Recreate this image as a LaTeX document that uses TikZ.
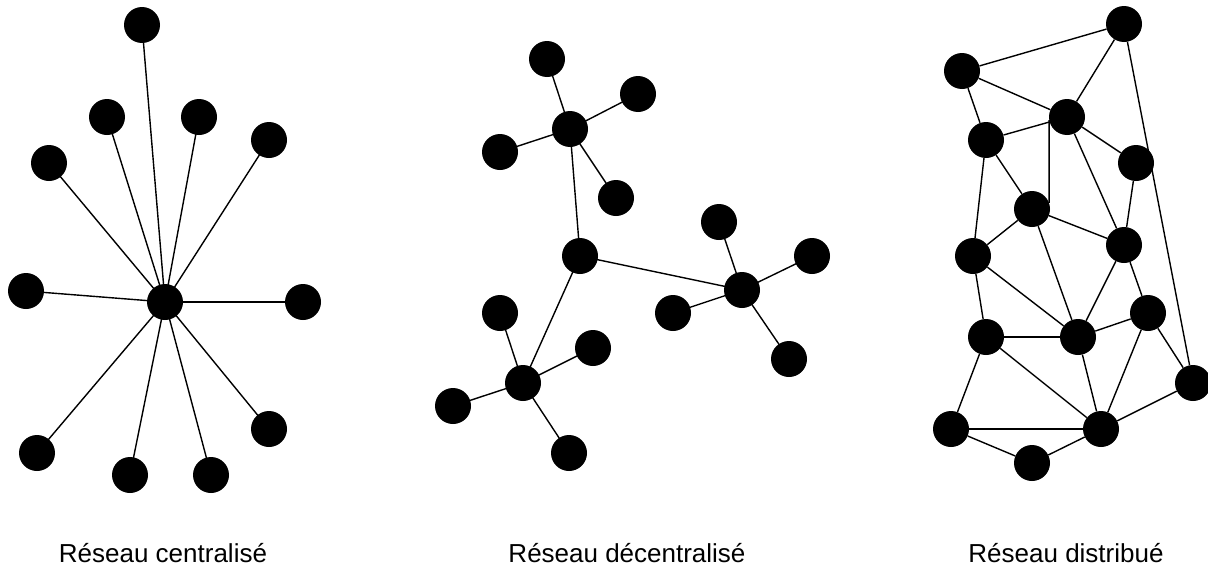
\documentclass[tikz,border=0pt]{standalone}
\usepackage{fontspec}
\setmainfont{Liberation Sans}
\begin{document}
\begin{tikzpicture}[x=1pt,y=-1pt,
  dot/.style={circle,fill=black,inner sep=0pt,minimum size=36pt},
  link/.style={line width=1.4pt,black},
  caption/.style={anchor=base,font=\fontsize{26}{31}\selectfont}]
\useasboundingbox (0,0) rectangle (1208,581);
% ---------- centralized
\node[dot] (c0) at (165,302) {};
\node[dot] (c1) at (142,25) {};
\node[dot] (c2) at (107,117) {};
\node[dot] (c3) at (199,117) {};
\node[dot] (c4) at (269,140) {};
\node[dot] (c5) at (49,163) {};
\node[dot] (c6) at (26,291) {};
\node[dot] (c7) at (303,302) {};
\node[dot] (c8) at (37,453) {};
\node[dot] (c9) at (130,475) {};
\node[dot] (c10) at (211,475) {};
\node[dot] (c11) at (269,429) {};
\foreach \i in {1,...,11} \draw[link] (c0.center) -- (c\i.center);
% ---------- decentralized
\node[dot] (m) at (580,256) {};
\node[dot] (h1) at (570,129) {};
\node[dot] (a1) at (547,59) {};
\node[dot] (a2) at (638,94) {};
\node[dot] (a3) at (500,152) {};
\node[dot] (a4) at (616,198) {};
\node[dot] (h2) at (742,290) {};
\node[dot] (b1) at (719,222) {};
\node[dot] (b2) at (812,256) {};
\node[dot] (b3) at (673,313) {};
\node[dot] (b4) at (789,359) {};
\node[dot] (h3) at (523,383) {};
\node[dot] (e1) at (500,313) {};
\node[dot] (e2) at (593,348) {};
\node[dot] (e3) at (453,406) {};
\node[dot] (e4) at (569,453) {};
\foreach \i in {1,...,4} {
  \draw[link] (h1.center) -- (a\i.center);
  \draw[link] (h2.center) -- (b\i.center);
  \draw[link] (h3.center) -- (e\i.center);
}
\draw[link] (m.center) -- (h1.center);
\draw[link] (m.center) -- (h2.center);
\draw[link] (m.center) -- (h3.center);
% ---------- distributed
\node[dot] (d1) at (1124,24) {};
\node[dot] (d2) at (962,71) {};
\node[dot] (d3) at (1067,117) {};
\node[dot] (d4) at (986,140) {};
\node[dot] (d5) at (1136,163) {};
\node[dot] (d6) at (1032,209) {};
\node[dot] (d7) at (1124,245) {};
\node[dot] (d8) at (973,256) {};
\node[dot] (d9) at (1148,313) {};
\node[dot] (d10) at (986,337) {};
\node[dot] (d11) at (1078,337) {};
\node[dot] (d12) at (1193,383) {};
\node[dot] (d13) at (951,429) {};
\node[dot] (d14) at (1101,429) {};
\node[dot] (d15) at (1032,463) {};
\foreach \a/\b in {d2/d1,d1/d3,d1/d12,d2/d3,d2/d4,d4/d3,d3/d5,d3/d7,d4/d6,d4/d8,
  d5/d7,d6/d8,d6/d11,d6/d7,d8/d10,d8/d11,d7/d11,d7/d9,d11/d9,d9/d12,d10/d11,
  d10/d13,d10/d14,d11/d14,d9/d14,d13/d14,d13/d15,d15/d14,d14/d12}
  \draw[link] (\a) -- (\b);
\draw[link] (d3.190) -- (d6.20);
% ---------- captions
\node[caption] (t1) at (163,562) {Réseau centralisé};
\node[caption] (t2) at (627,562) {Réseau décentralisé};
\node[caption] (t3) at (1066,562) {Réseau distribué};
\end{tikzpicture}
\end{document}
